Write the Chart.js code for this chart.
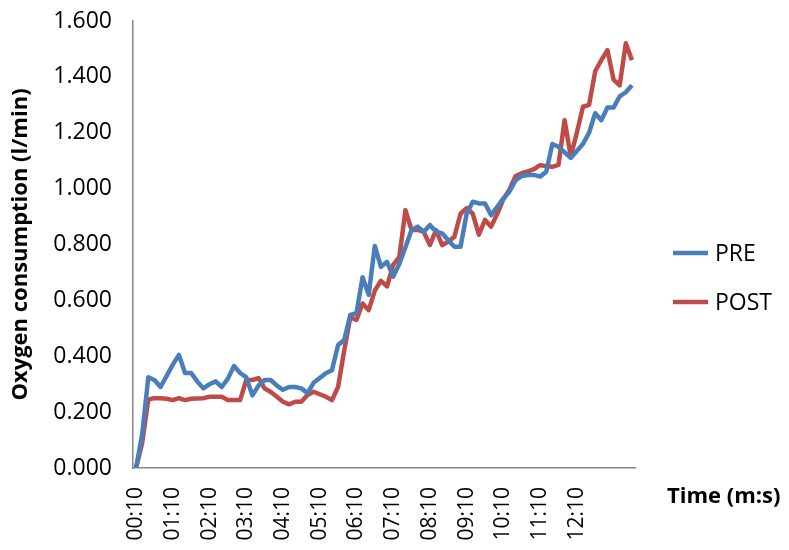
<!DOCTYPE html>
<html><head><meta charset="utf-8">
<script src="https://cdn.jsdelivr.net/npm/chart.js@4"></script>
<style>html,body{margin:0;padding:0;background:#fff}#wrap{width:789px;height:550px;position:relative}</style>
</head><body><div id="wrap"><canvas id="c"></canvas></div>
<script>
const times = [
"00:10","00:20","00:30","00:40","00:50","01:00",
"01:10","01:20","01:30","01:40","01:50","02:00",
"02:10","02:20","02:30","02:40","02:50","03:00",
"03:10","03:20","03:30","03:40","03:50","04:00",
"04:10","04:20","04:30","04:40","04:50","05:00",
"05:10","05:20","05:30","05:40","05:50","06:00",
"06:10","06:20","06:30","06:40","06:50","07:00",
"07:10","07:20","07:30","07:40","07:50","08:00",
"08:10","08:20","08:30","08:40","08:50","09:00",
"09:10","09:20","09:30","09:40","09:50","10:00",
"10:10","10:20","10:30","10:40","10:50","11:00",
"11:10","11:20","11:30","11:40","11:50","12:00",
"12:10","12:20","12:30","12:40","12:50","13:00",
"13:10","13:20","13:30","13:40"];
const shownTimes = ["00:10","01:10","02:10","03:10","04:10","05:10","06:10",
"07:10","08:10","09:10","10:10","11:10","12:10"];
const pre = [0.00,0.12,0.325,0.315,0.29,0.33,0.37,0.405,0.34,0.34,
 0.31,
 0.285,0.30,0.31,0.29,0.32,0.365,0.34,0.325,0.26,0.295,0.315,0.315,0.295,0.28,0.29,0.29,0.285,0.268,0.305,
 0.322,
 0.339,0.35,0.44,0.458,0.548,0.554,0.683,0.62,0.795,0.72,0.738,0.685,0.73,0.79,0.852,0.864,0.846,0.87,0.846,0.84,
 0.815,
 0.792,0.792,0.91,0.953,0.947,0.947,0.905,0.935,0.965,0.99,1.03,1.045,1.049,1.049,1.043,1.06,1.16,1.15,1.13,1.11,
 1.135,
 1.16,1.20,1.27,1.245,1.29,1.29,1.33,1.345,1.37];
const post = [0.00,0.09,0.245,0.25,0.25,0.248,0.243,0.25,0.243,0.248,
 0.249,
 0.25,0.255,0.255,0.255,0.243,0.243,0.243,0.315,0.315,0.322,0.285,0.272,0.255,0.237,0.228,0.237,0.237,0.261,0.273,
 0.264,
 0.255,0.243,0.29,0.42,0.54,0.53,0.589,0.565,0.635,0.67,0.65,0.727,0.755,0.923,0.852,0.852,0.845,0.798,0.852,0.798,
 0.81,
 0.828,0.91,0.93,0.91,0.835,0.888,0.864,0.91,0.962,0.997,1.045,1.055,1.062,1.07,1.084,1.08,1.078,1.085,1.245,1.115,
 1.20,
 1.293,1.30,1.42,1.46,1.496,1.39,1.37,1.52,1.46];
const yTicks = [0,0.2,0.4,0.6,0.8,1.0,1.2,1.4,1.6];
const seriesNames = ["PRE","POST"];
const colors = ["#4A7EBB","#BE4B48"];
const yTitle = "Oxygen consumption (l/min)";
const xTitle = "Time (m:s)";
const FONT = "'Open Sans', sans-serif";

const extras = {
  id: 'extras',
  afterDraw(chart) {
    const ctx = chart.ctx;
    ctx.save();
    ctx.fillStyle = '#000';
    ctx.font = "bold 22px " + FONT;
    ctx.textAlign = 'left';
    ctx.textBaseline = 'middle';
    ctx.fillText(xTitle, 667, 497);
    const ys = [253, 302];
    ctx.font = "23px " + FONT;
    seriesNames.forEach((n, i) => {
      ctx.strokeStyle = colors[i];
      ctx.lineWidth = 4.5;
      ctx.beginPath();
      ctx.moveTo(673, ys[i]);
      ctx.lineTo(708, ys[i]);
      ctx.stroke();
      ctx.fillStyle = '#000';
      ctx.fillText(n, 715, ys[i] + 1);
    });
    ctx.restore();
  }
};

new Chart(document.getElementById('c'), {
  type: 'line',
  data: {
    labels: times,
    datasets: [
      {label: seriesNames[0], data: pre, borderColor: colors[0], backgroundColor: colors[0]},
      {label: seriesNames[1], data: post, borderColor: colors[1], backgroundColor: colors[1]}
    ]
  },
  options: {
    responsive: true,
    maintainAspectRatio: false,
    animation: false,
    layout: {padding: {top: 21, right: 154, left: 0, bottom: 0}},
    elements: {
      line: {borderWidth: 4.5, tension: 0, borderJoinStyle: 'round', borderCapStyle: 'butt'},
      point: {radius: 0, hoverRadius: 0}
    },
    plugins: {legend: {display: false}, tooltip: {enabled: false}},
    scales: {
      x: {
        type: 'category',
        offset: true,
        grid: {display: false, drawTicks: false},
        border: {display: true, color: '#868686', width: 1.5},
        ticks: {
          autoSkip: false, minRotation: 90, maxRotation: 90, padding: 19,
          color: '#000', font: {family: FONT, size: 21},
          callback: function(v, i) { return shownTimes.includes(times[i]) ? times[i] : ''; }
        },
        afterFit(s) { s.height = 82; }
      },
      y: {
        min: 0, max: 1.6,
        afterBuildTicks(s) { s.ticks = yTicks.map(v => ({value: v})); },
        grid: {display: false, drawTicks: true, tickLength: 21},
        border: {display: true, color: '#868686', width: 1.5},
        ticks: {
          padding: 0, color: '#000', font: {family: FONT, size: 23},
          callback: v => Number(v).toFixed(3)
        },
        title: {display: true, text: yTitle, color: '#000', font: {family: FONT, size: 22, weight: 'bold'}, padding: {top: 8, bottom: 0}},
        afterFit(s) { s.width = 133; }
      }
    }
  },
  plugins: [extras]
});
</script></body></html>
